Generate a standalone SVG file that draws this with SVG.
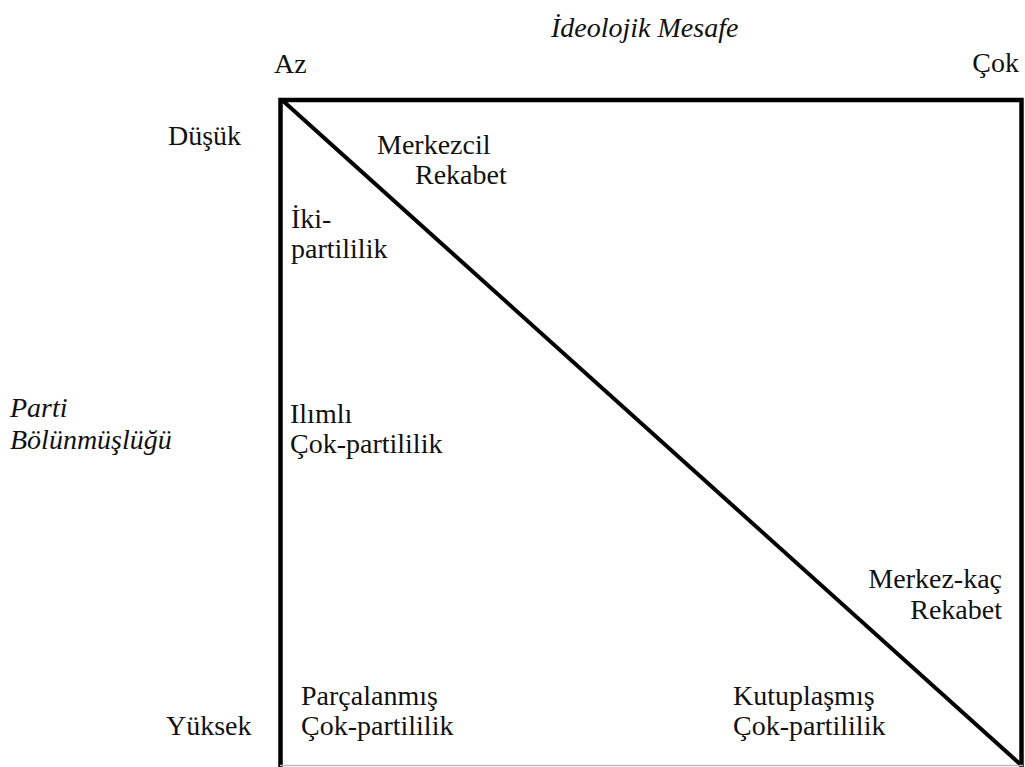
<svg xmlns="http://www.w3.org/2000/svg" width="1025" height="767" viewBox="0 0 1025 767">
<style>
svg text, text.t{font-family:'Liberation Serif',serif !important;font-size:28px;fill:#111}
.it{font-style:italic}
.end{text-anchor:end}
.frame{fill:none;stroke:#000;stroke-width:4.5}
</style>
<rect width="1025" height="767" fill="#fff"/>
<g font-family="Liberation Serif" font-size="28" fill="#111">
<g id="axes">
<text class="t it" style="font-family:'Liberation Serif',serif !important" x="551" y="37">İdeolojik Mesafe</text>
<text class="t" style="font-family:'Liberation Serif',serif !important" x="274" y="73">Az</text>
<text class="t end" style="font-family:'Liberation Serif',serif !important" x="1019" y="72">Çok</text>
<text class="t it" style="font-family:'Liberation Serif',serif !important" x="10" y="417">Parti</text>
<text class="t it" style="font-family:'Liberation Serif',serif !important" x="10" y="449">Bölünmüşlüğü</text>
<text class="t" style="font-family:'Liberation Serif',serif !important" x="168" y="145">Düşük</text>
<text class="t" style="font-family:'Liberation Serif',serif !important" x="166" y="735">Yüksek</text>
</g>
<g id="connectors">
<path class="frame" d="M280.5 767 V100 H1021.5 V767"/>
<line x1="280" y1="765.5" x2="1023" y2="765.5" stroke="#bbb" stroke-width="1.5"/>
<line x1="282" y1="100" x2="1020" y2="764" stroke="#000" stroke-width="4"/>
</g>
<g id="merkezcil"><text class="t" style="font-family:'Liberation Serif',serif !important" x="377" y="154">Merkezcil</text><text class="t" style="font-family:'Liberation Serif',serif !important" x="415" y="184">Rekabet</text></g>
<g id="iki"><text class="t" style="font-family:'Liberation Serif',serif !important" x="291" y="228">İki-</text><text class="t" style="font-family:'Liberation Serif',serif !important" x="291" y="258">partililik</text></g>
<g id="ilimli"><text class="t" style="font-family:'Liberation Serif',serif !important" x="290" y="423">Ilımlı</text><text class="t" style="font-family:'Liberation Serif',serif !important" x="290" y="453">Çok-partililik</text></g>
<g id="merkezkac"><text class="t end" style="font-family:'Liberation Serif',serif !important" x="1002" y="588">Merkez-kaç</text><text class="t end" style="font-family:'Liberation Serif',serif !important" x="1002" y="619">Rekabet</text></g>
<g id="parcalanmis"><text class="t" style="font-family:'Liberation Serif',serif !important" x="301" y="705">Parçalanmış</text><text class="t" style="font-family:'Liberation Serif',serif !important" x="301" y="735">Çok-partililik</text></g>
<g id="kutuplasmis"><text class="t" style="font-family:'Liberation Serif',serif !important" x="733" y="705">Kutuplaşmış</text><text class="t" style="font-family:'Liberation Serif',serif !important" x="733" y="735">Çok-partililik</text></g>
</g>
</svg>
